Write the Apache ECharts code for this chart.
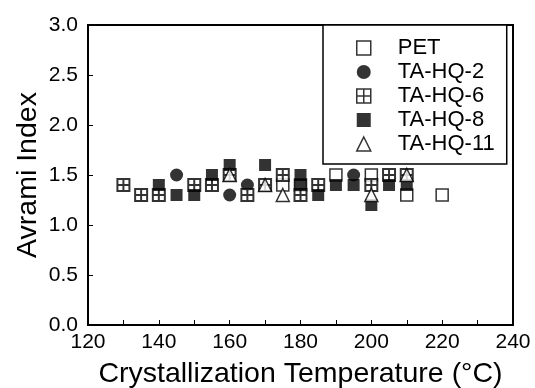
<!DOCTYPE html>
<html>
<head>
<meta charset="utf-8">
<title>Avrami Index</title>
<script src="https://cdn.jsdelivr.net/npm/echarts@6/dist/echarts.min.js"></script>
<style>
  html, body { margin: 0; padding: 0; background: #fff; }
  #main { width: 535px; height: 388px; }
</style>
</head>
<body>
<div id="main"></div>
<script>
// data: [temperature (°C), Avrami index]
var seriesNames = ['PET', 'TA-HQ-2', 'TA-HQ-6', 'TA-HQ-8', 'TA-HQ-11'];
var pet = [[175, 1.4], [180, 1.4], [190, 1.5], [200, 1.5], [210, 1.3], [220, 1.3]];
var hq2 = [[145, 1.5], [160, 1.3], [165, 1.4], [195, 1.5]];
var hq6 = [[130, 1.4], [135, 1.3], [140, 1.3], [150, 1.4], [155, 1.4], [160, 1.5], [165, 1.3],
           [170, 1.4], [175, 1.5], [180, 1.3], [185, 1.4], [200, 1.4], [205, 1.5], [210, 1.5]];
var hq8 = [[140, 1.4], [145, 1.3], [150, 1.3], [155, 1.5], [160, 1.6], [170, 1.6], [180, 1.5],
           [180, 1.4], [185, 1.3], [190, 1.4], [195, 1.4], [200, 1.2], [205, 1.4], [210, 1.4]];
var hq11 = [[160, 1.5], [170, 1.4], [175, 1.3], [200, 1.3], [210, 1.5]];

var font = 'Liberation Sans, Arial, Helvetica, sans-serif';
var gridSym = 'path://M0,0H12V12H0ZM6,0V12M0,6H12';

var myChart = echarts.init(document.getElementById('main'));
var option = {
  backgroundColor: '#fff',
  animation: false,
  textStyle: { fontFamily: font, color: '#000' },
  grid: {
    left: 88, right: 22, top: 25, bottom: 63,
    outerBoundsMode: 'none', containLabel: false,
    show: true, borderColor: '#000', borderWidth: 2
  },
  legend: {
    orient: 'vertical',
    left: 323, top: 25,
    padding: [12, 12, 9, 33],
    itemWidth: 14, itemHeight: 14, itemGap: 2,
    borderColor: '#000', borderWidth: 1.5,
    backgroundColor: '#fff',
    itemStyle: { borderWidth: 1.5 },
    textStyle: { fontFamily: font, fontSize: 22, color: '#000', lineHeight: 22, padding: [0, 0, 0, 22] },
    data: seriesNames
  },
  xAxis: {
    type: 'value', min: 120, max: 240, interval: 20,
    name: 'Crystallization Temperature (°C)',
    nameLocation: 'middle', nameGap: 35, nameMoveOverlap: false,
    nameTextStyle: { fontSize: 28.5, color: '#000', fontFamily: font },
    axisLine: { lineStyle: { color: '#000', width: 2 } },
    axisTick: { inside: true, length: 5, lineStyle: { color: '#000', width: 1 } },
    minorTick: { show: true, splitNumber: 2, length: 5, lineStyle: { color: '#000', width: 1 } },
    axisLabel: { fontSize: 21, color: '#000', margin: 7, fontFamily: font },
    splitLine: { show: false }
  },
  yAxis: {
    type: 'value', min: 0, max: 3, interval: 0.5,
    name: 'Avrami Index',
    nameLocation: 'middle', nameGap: 45, nameMoveOverlap: false,
    nameTextStyle: { fontSize: 28.5, color: '#000', fontFamily: font },
    axisLine: { lineStyle: { color: '#000', width: 2 } },
    axisTick: { inside: true, length: 5, lineStyle: { color: '#000', width: 1 } },
    axisLabel: { fontSize: 21, color: '#000', margin: 10, fontFamily: font,
      formatter: function (v) { return v.toFixed(1); } },
    splitLine: { show: false }
  },
  series: [
    { name: 'PET', type: 'scatter', data: pet, symbol: 'rect', symbolSize: 12,
      itemStyle: { color: '#fff', borderColor: '#000', borderWidth: 1.5 } },
    { name: 'TA-HQ-2', type: 'scatter', data: hq2, symbol: 'circle', symbolSize: 13,
      itemStyle: { color: '#000' } },
    { name: 'TA-HQ-6', type: 'scatter', data: hq6, symbol: gridSym, symbolSize: 12,
      itemStyle: { color: '#fff', borderColor: '#000', borderWidth: 2 } },
    { name: 'TA-HQ-8', type: 'scatter', data: hq8, symbol: 'rect', symbolSize: 12,
      itemStyle: { color: '#000' } },
    { name: 'TA-HQ-11', type: 'scatter', data: hq11, symbol: 'triangle', symbolSize: 13,
      itemStyle: { color: '#fff', borderColor: '#000', borderWidth: 1.5 } }
  ]
};
myChart.setOption(option);
</script>
</body>
</html>
